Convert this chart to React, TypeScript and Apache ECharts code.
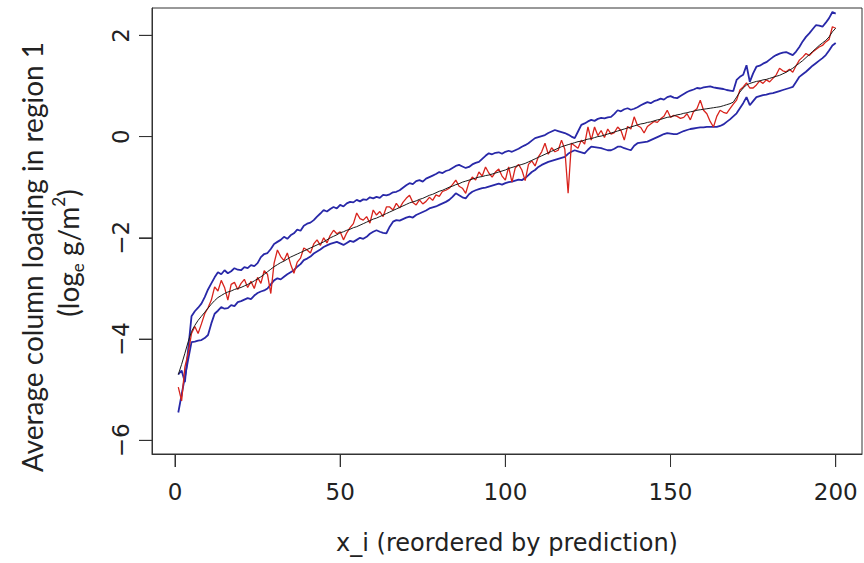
import React, { useEffect, useRef } from "react";
import * as echarts from "echarts";

const xTicks = [0, 50, 100, 150, 200];
const yTicks = [-6, -4, -2, 0, 2];

const predicted = [
  -4.70, -4.50, -4.28, -4.05, -3.85, -3.73, -3.63, -3.55, -3.47, -3.39,
  -3.31, -3.24, -3.18, -3.14, -3.10, -3.07, -3.05, -3.02, -3.00, -2.98,
  -2.95, -2.92, -2.89, -2.85, -2.81, -2.77, -2.72, -2.67, -2.62, -2.57,
  -2.53, -2.49, -2.46, -2.42, -2.38, -2.35, -2.32, -2.29, -2.26, -2.23,
  -2.20, -2.17, -2.14, -2.11, -2.08, -2.04, -2.00, -1.97, -1.94, -1.90,
  -1.88, -1.85, -1.83, -1.80, -1.78, -1.75, -1.72, -1.69, -1.66, -1.63,
  -1.61, -1.58, -1.55, -1.52, -1.49, -1.46, -1.43, -1.40, -1.37, -1.34,
  -1.31, -1.29, -1.27, -1.24, -1.22, -1.19, -1.16, -1.14, -1.11, -1.08,
  -1.06, -1.03, -1.00, -0.98, -0.95, -0.93, -0.90, -0.88, -0.86, -0.84,
  -0.82, -0.80, -0.79, -0.77, -0.76, -0.74, -0.72, -0.70, -0.68, -0.66,
  -0.63, -0.61, -0.59, -0.57, -0.55, -0.53, -0.50, -0.47, -0.44, -0.41,
  -0.38, -0.35, -0.32, -0.29, -0.26, -0.23, -0.20, -0.18, -0.16, -0.14,
  -0.12, -0.10, -0.09, -0.07, -0.05, -0.04, -0.02, 0.00, 0.01, 0.03,
  0.05, 0.07, 0.09, 0.11, 0.13, 0.15, 0.17, 0.19, 0.21, 0.23,
  0.25, 0.26, 0.28, 0.29, 0.31, 0.33, 0.34, 0.36, 0.38, 0.39,
  0.41, 0.43, 0.44, 0.46, 0.47, 0.49, 0.50, 0.52, 0.53, 0.54,
  0.55, 0.56, 0.57, 0.58, 0.59, 0.61, 0.63, 0.65, 0.68, 0.78,
  0.88, 0.96, 1.02, 1.05, 1.07, 1.09, 1.10, 1.12, 1.13, 1.15,
  1.17, 1.19, 1.21, 1.24, 1.27, 1.31, 1.35, 1.40, 1.45, 1.50,
  1.56, 1.62, 1.68, 1.74, 1.80, 1.85, 1.90, 1.97, 2.07, 2.14,
];

const observed = [
  -4.95, -5.22, -4.55, -4.28, -3.89, -3.75, -3.89, -3.70, -3.50, -3.38,
  -3.23, -2.97, -3.05, -2.84, -2.98, -3.23, -2.92, -2.88, -3.02, -2.90,
  -2.82, -2.98, -2.86, -3.00, -2.78, -2.90, -2.65, -2.72, -3.10, -2.50,
  -2.24, -2.37, -2.45, -2.30, -2.52, -2.70, -2.48, -2.40, -2.20, -2.24,
  -2.30, -2.12, -2.04, -2.15, -2.00, -2.10, -1.95, -1.85, -1.92, -1.88,
  -2.04, -1.90, -1.80, -1.72, -1.51, -1.62, -1.65, -1.58, -1.71, -1.45,
  -1.55, -1.48, -1.58, -1.39, -1.39, -1.45, -1.32, -1.41, -1.30, -1.22,
  -1.16, -1.30, -1.35, -1.25, -1.33, -1.28, -1.20, -1.26, -1.15, -1.18,
  -1.08, -1.06, -1.02, -0.95, -0.86, -0.98, -1.02, -1.12, -0.90, -0.80,
  -0.86, -0.70, -0.78, -0.60, -0.72, -0.80, -0.70, -0.64, -0.78, -0.86,
  -0.60, -0.90, -0.62, -0.55, -0.66, -0.87, -0.55, -0.48, -0.58, -0.40,
  -0.30, -0.13, -0.35, -0.22, -0.30, -0.27, -0.07, -0.25, -1.12, -0.13,
  -0.18, -0.23, -0.07, -0.15, 0.19, -0.07, 0.19, 0.02, 0.12, -0.02,
  0.15, 0.05, 0.08, 0.19, 0.12, -0.07, 0.20, 0.15, 0.39, 0.22,
  0.18, 0.07, 0.20, 0.25, 0.30, 0.28, 0.35, 0.40, 0.52, 0.38,
  0.42, 0.40, 0.36, 0.38, 0.45, 0.33, 0.50, 0.55, 0.72, 0.52,
  0.45, 0.30, 0.19, 0.40, 0.52, 0.48, 0.46, 0.55, 0.64, 0.72,
  0.92, 0.98, 1.06, 0.96, 0.96, 1.02, 1.10, 1.05, 1.12, 1.08,
  1.15, 1.22, 1.35, 1.30, 1.28, 1.33, 1.27, 1.40, 1.51, 1.57,
  1.64, 1.60, 1.67, 1.72, 1.77, 1.80, 1.87, 1.92, 2.17, 2.14,
];

const upperBound = [
  -4.70, -4.62, -4.85, -4.20, -3.55, -3.45, -3.38, -3.30, -3.17, -3.02,
  -2.90, -2.78, -2.68, -2.72, -2.64, -2.70, -2.66, -2.60, -2.63, -2.64,
  -2.58, -2.60, -2.54, -2.56, -2.50, -2.38, -2.32, -2.30, -2.22, -2.12,
  -2.08, -2.04, -1.98, -2.02, -1.95, -1.91, -1.84, -1.86, -1.76, -1.72,
  -1.70, -1.65, -1.58, -1.52, -1.45, -1.48, -1.43, -1.39, -1.42, -1.35,
  -1.38, -1.32, -1.29, -1.30, -1.25, -1.28, -1.24, -1.25, -1.20, -1.22,
  -1.19, -1.21, -1.15, -1.16, -1.14, -1.10, -1.09, -1.06, -1.01, -0.96,
  -0.92, -0.94, -0.88, -0.86, -0.89, -0.83, -0.80, -0.77, -0.74, -0.70,
  -0.72, -0.68, -0.66, -0.62, -0.58, -0.56, -0.59, -0.62, -0.60, -0.55,
  -0.52, -0.50, -0.44, -0.38, -0.33, -0.35, -0.32, -0.31, -0.34, -0.30,
  -0.28, -0.30, -0.27, -0.24, -0.20, -0.17, -0.13, -0.08, -0.03, -0.01,
  0.01, 0.03, 0.07, 0.10, 0.13, 0.11, 0.09, 0.07, 0.04, 0.00,
  -0.03, 0.10, 0.23, 0.26, 0.30, 0.33, 0.31, 0.35, 0.37, 0.36,
  0.38, 0.39, 0.45, 0.52, 0.50, 0.54, 0.56, 0.53, 0.55, 0.58,
  0.62, 0.65, 0.68, 0.66, 0.70, 0.72, 0.75, 0.73, 0.78, 0.80,
  0.77, 0.76, 0.80, 0.84, 0.88, 0.91, 0.93, 0.96, 0.95, 0.97,
  0.98, 0.99, 0.97, 0.96, 0.95, 0.94, 0.92, 0.91, 0.90, 1.12,
  1.18, 1.22, 1.41, 1.08, 1.25, 1.38, 1.40, 1.44, 1.47, 1.52,
  1.57, 1.61, 1.64, 1.66, 1.67, 1.64, 1.61, 1.68, 1.77, 1.88,
  1.97, 2.04, 2.12, 2.20, 2.19, 2.17, 2.25, 2.34, 2.46, 2.43,
];

const lowerBound = [
  -5.45, -5.10, -4.75, -4.40, -4.06, -4.05, -4.03, -4.02, -3.98, -3.92,
  -3.69, -3.50, -3.44, -3.37, -3.40, -3.39, -3.33, -3.35, -3.27, -3.25,
  -3.22, -3.19, -3.21, -3.14, -3.09, -3.06, -3.04, -3.00, -2.92, -2.84,
  -2.80, -2.82, -2.77, -2.72, -2.68, -2.64, -2.57, -2.52, -2.44, -2.41,
  -2.37, -2.31, -2.27, -2.23, -2.18, -2.15, -2.12, -2.10, -2.08, -2.11,
  -2.14, -2.10, -2.06, -2.08, -2.04, -2.00, -2.02, -1.98, -1.92, -1.88,
  -1.85, -1.88, -1.90, -1.91, -1.78, -1.68, -1.65, -1.66, -1.63, -1.60,
  -1.58, -1.60, -1.55, -1.52, -1.49, -1.46, -1.42, -1.40, -1.38, -1.35,
  -1.32, -1.29, -1.25, -1.19, -1.12, -1.16, -1.20, -1.22, -1.14, -1.09,
  -1.06, -1.04, -1.02, -1.01, -0.99, -0.97, -0.95, -0.93, -0.95, -0.92,
  -0.90, -0.89, -0.87, -0.85, -0.86, -0.82, -0.76, -0.70, -0.66, -0.60,
  -0.56, -0.53, -0.50, -0.48, -0.46, -0.44, -0.42, -0.40, -0.34, -0.30,
  -0.27, -0.29, -0.31, -0.33, -0.26, -0.20, -0.21, -0.22, -0.23, -0.25,
  -0.27, -0.27, -0.24, -0.20, -0.20, -0.23, -0.25, -0.27, -0.18, -0.13,
  -0.12, -0.11, -0.10, -0.07, -0.04, -0.01, 0.02, 0.05, 0.07, 0.06,
  0.05, 0.05, 0.08, 0.11, 0.13, 0.15, 0.16, 0.17, 0.18, 0.18,
  0.19, 0.19, 0.19, 0.19, 0.21, 0.24, 0.29, 0.34, 0.40, 0.46,
  0.56, 0.66, 0.78, 0.62, 0.70, 0.78, 0.80, 0.82, 0.83, 0.85,
  0.86, 0.88, 0.90, 0.92, 0.94, 0.96, 0.98, 1.08, 1.18, 1.23,
  1.28, 1.34, 1.40, 1.45, 1.50, 1.55, 1.61, 1.70, 1.80, 1.85,
];

const X_MIN = -6.96;
const X_MAX = 207.96;
const Y_MIN = -6.27;
const Y_MAX = 2.54;

const toPoints = (arr: number[]) => arr.map((v, i) => [i + 1, v]);
const fmtMinus = (v: number) => String(v).replace("-", "\u2212");

export default function App() {
  const ref = useRef<HTMLDivElement>(null);
  useEffect(() => {
    document.body.style.margin = "0";
    const chart = echarts.init(ref.current!, null, { renderer: "svg" });
    const tickFont = { fontFamily: "DejaVu Sans", fontSize: 23, color: "#222" };
    const titles: any[] = [
      {
        type: "text",
        x: 32,
        y: 257,
        rotation: Math.PI / 2,
        style: {
          text: "Average column loading in region 1",
          fontFamily: "Lato",
          fontSize: 28,
          fill: "#222",
          align: "center",
          verticalAlign: "middle",
        },
      },
      {
        type: "text",
        x: 68,
        y: 253,
        rotation: Math.PI / 2,
        style: {
          text: "{a|(log}{s|e}{a| g/m}{p|2}{a|)}",
          align: "center",
          verticalAlign: "middle",
          rich: {
            a: { fontFamily: "Lato", fontSize: 28, fill: "#222", lineHeight: 36 },
            s: { fontFamily: "Lato", fontSize: 17, fill: "#222", lineHeight: 36, verticalAlign: "bottom" },
            p: { fontFamily: "Lato", fontSize: 17, fill: "#222", lineHeight: 36, verticalAlign: "top" },
          },
        },
      },
    ];
    chart.setOption({
      animation: false,
      grid: {
        left: 152,
        right: 2,
        top: 8,
        bottom: 109,
        show: true,
        borderColor: "#333",
        borderWidth: 1,
      },
      xAxis: {
        type: "value",
        min: X_MIN,
        max: X_MAX,
        axisLine: { show: true, onZero: false, lineStyle: { color: "#333", width: 1 } },
        splitLine: { show: false },
        axisTick: {
          show: true,
          customValues: xTicks,
          length: 13,
          lineStyle: { color: "#333", width: 1 },
        },
        axisLabel: { customValues: xTicks, margin: 26, ...tickFont },
        name: "x_i (reordered by prediction)",
        nameLocation: "middle",
        nameGap: 77,
        nameTextStyle: { fontFamily: "DejaVu Sans", fontSize: 24, color: "#222" },
      },
      yAxis: {
        type: "value",
        min: Y_MIN,
        max: Y_MAX,
        axisLine: { show: true, onZero: false, lineStyle: { color: "#333", width: 1 } },
        splitLine: { show: false },
        axisTick: {
          show: true,
          customValues: yTicks,
          length: 13,
          lineStyle: { color: "#333", width: 1 },
        },
        axisLabel: {
          customValues: yTicks,
          rotate: 90,
          margin: 20,
          formatter: fmtMinus,
          ...tickFont,
        },
      },
      graphic: titles,
      series: [
        {
          name: "upper",
          type: "line",
          data: toPoints(upperBound),
          showSymbol: false,
          symbol: "none",
          lineStyle: { color: "#2828a8", width: 1.8 },
        },
        {
          name: "lower",
          type: "line",
          data: toPoints(lowerBound),
          showSymbol: false,
          symbol: "none",
          lineStyle: { color: "#2828a8", width: 1.8 },
        },
        {
          name: "observed",
          type: "line",
          data: toPoints(observed),
          showSymbol: false,
          symbol: "none",
          lineStyle: { color: "#d8231c", width: 1.3 },
        },
        {
          name: "predicted",
          type: "line",
          data: toPoints(predicted),
          showSymbol: false,
          symbol: "none",
          lineStyle: { color: "#1a1a1a", width: 1 },
        },
      ],
    });

    // Extra tick marks placed through the chart's own scales.
    const toPx = (pt: number[]) => chart.convertToPixel({ gridIndex: 0 }, pt) as number[];
    const bottomPx = toPx([0, Y_MIN])[1];
    const leftPx = toPx([X_MIN, 0])[0];
    const tickLen = 13;
    const tickStyle = { stroke: "#333", lineWidth: 1 };
    const xTickLines = xTicks.map((v) => {
      const px = toPx([v, Y_MIN])[0];
      return {
        type: "line",
        silent: true,
        z: 100,
        shape: { x1: px, y1: bottomPx, x2: px, y2: bottomPx + tickLen },
        style: tickStyle,
      };
    });
    const yTickLines = yTicks.map((v) => {
      const py = toPx([X_MIN, v])[1];
      return {
        type: "line",
        silent: true,
        z: 100,
        shape: { x1: leftPx - tickLen, y1: py, x2: leftPx, y2: py },
        style: tickStyle,
      };
    });
    chart.setOption({ graphic: [...titles, ...xTickLines, ...yTickLines] });

    return () => chart.dispose();
  }, []);
  return (
    <div
      ref={ref}
      style={{ position: "absolute", left: 0, top: 0, width: 864, height: 563, background: "#fff" }}
    />
  );
}
